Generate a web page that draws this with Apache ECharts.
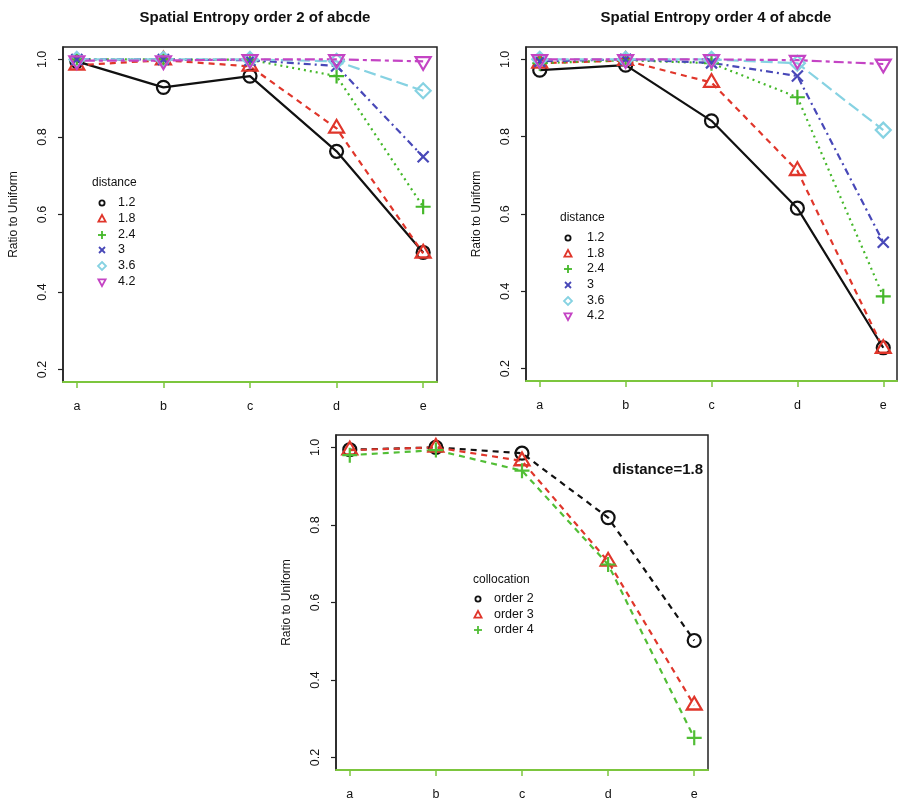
<!DOCTYPE html>
<html>
<head>
<meta charset="utf-8">
<script src="https://cdn.jsdelivr.net/npm/echarts@6/dist/echarts.min.js"></script>
<style>
  html, body { margin: 0; padding: 0; background: #fff; }
  #main { width: 902px; height: 803px; }
</style>
</head>
<body>
<div id="main"></div>
<script>
// Categories along the x axis
const categories = ['a', 'b', 'c', 'd', 'e'];
const yTicks = [0.2, 0.4, 0.6, 0.8, 1.0];
const distanceNames = ['1.2', '1.8', '2.4', '3', '3.6', '4.2'];
const orderNames = ['order 2', 'order 3', 'order 4'];

// Spatial entropy, order 2 (ratio to uniform) for each distance
const ord2_d12 = [0.995, 0.928, 0.957, 0.763, 0.502];
const ord2_d18 = [0.985, 0.998, 0.982, 0.822, 0.500];
const ord2_d24 = [1.000, 1.000, 0.999, 0.957, 0.620];
const ord2_d30 = [1.000, 1.000, 0.998, 0.983, 0.749];
const ord2_d36 = [1.000, 1.000, 1.000, 0.995, 0.919];
const ord2_d42 = [0.997, 0.997, 1.000, 1.000, 0.995];

// Spatial entropy, order 4 (ratio to uniform) for each distance
const ord4_d12 = [0.972, 0.985, 0.841, 0.615, 0.254];
const ord4_d18 = [0.990, 0.997, 0.940, 0.712, 0.252];
const ord4_d24 = [0.990, 0.998, 0.990, 0.902, 0.387];
const ord4_d30 = [0.995, 1.000, 0.991, 0.957, 0.527];
const ord4_d36 = [1.000, 1.000, 1.000, 0.990, 0.817];
const ord4_d42 = [1.000, 1.000, 1.000, 0.998, 0.988];

// Distance 1.8, collocation orders 2..4
const d18_ord2 = [0.994, 1.000, 0.985, 0.819, 0.502];
const d18_ord3 = [0.993, 1.000, 0.965, 0.706, 0.335];
const d18_ord4 = [0.980, 0.993, 0.940, 0.698, 0.251];

const FONT = 'Liberation Sans, Arial, sans-serif';

// R-like plotting symbols (open)
const SYM = {
  circle: 'circle',
  triangle: 'path://M0,1.555M0,-1.555L1.347,0.778L-1.347,0.778Z',
  plus: 'path://M0,-1L0,1M-1,0L1,0',
  cross: 'path://M-1,-1L1,1M-1,1L1,-1',
  diamond: 'path://M0,-1L1,0L0,1L-1,0Z',
  downTriangle: 'path://M0,-1.555M0,1.555L1.347,-0.778L-1.347,-0.778Z'
};
const SYM_SIZE = {
  circle: 13, triangle: [15, 17], plus: 15, cross: 11, diamond: 15, downTriangle: [15, 17]
};

const styles = [
  { color: '#111111', dash: 'solid', sym: 'circle' },
  { color: '#e0362b', dash: [6, 5], sym: 'triangle' },
  { color: '#45b82a', dash: [2, 4], sym: 'plus' },
  { color: '#4848b8', dash: [2, 4, 7, 4], sym: 'cross' },
  { color: '#86d2e2', dash: [12, 5], sym: 'diamond' },
  { color: '#c444c4', dash: [4, 4, 10, 4], sym: 'downTriangle' }
];
const styles3 = [
  { color: '#111111', dash: [6, 5], sym: 'circle' },
  { color: '#e0362b', dash: [6, 5], sym: 'triangle' },
  { color: '#52be36', dash: [6, 5], sym: 'plus' }
];

const grids = [
  { left: 63, top: 47, width: 374, height: 335 },
  { left: 526, top: 47, width: 371, height: 334 },
  { left: 336, top: 435, width: 372, height: 335 }
];

function lineSeries(gi, vals, st, name) {
  return {
    type: 'line', name: name, xAxisIndex: gi, yAxisIndex: gi,
    data: categories.map((c, i) => [i + 1, vals[i]]),
    symbol: SYM[st.sym], symbolSize: SYM_SIZE[st.sym],
    lineStyle: { color: st.color, width: 2.2, type: st.dash },
    itemStyle: { color: 'rgba(0,0,0,0)', borderColor: st.color, borderWidth: 2.2 },
    silent: true, animation: false, z: 3
  };
}

const xAxes = grids.map((g, i) => ({
  type: 'value', gridIndex: i, min: 0.84, max: 5.16,
  axisLine: { show: true, onZero: false, lineStyle: { color: '#7cc63e', width: 2 } },
  axisTick: { show: true, customValues: [1, 2, 3, 4, 5], length: 6, lineStyle: { color: '#7cc63e', width: 1.5 } },
  axisLabel: {
    customValues: [1, 2, 3, 4, 5], margin: 18, color: '#111', fontSize: 12.5, fontFamily: FONT,
    formatter: v => categories[Math.round(v) - 1]
  },
  splitLine: { show: false }
}));

const yAxes = grids.map((g, i) => ({
  type: 'value', gridIndex: i, min: 0.168, max: 1.032,
  name: 'Ratio to Uniform', nameLocation: 'middle', nameGap: 43, nameRotate: 90,
  nameTextStyle: { fontSize: 12, fontFamily: FONT, color: '#111' },
  axisLine: { show: true, lineStyle: { color: '#222', width: 1.5 } },
  axisTick: { show: true, customValues: yTicks, length: 5, lineStyle: { color: '#222', width: 1.2 } },
  axisLabel: {
    customValues: yTicks, rotate: 90, margin: 14, color: '#111', fontSize: 12.5, fontFamily: FONT,
    formatter: v => v.toFixed(1)
  },
  splitLine: { show: false }
}));

// Small legend glyphs drawn as graphic shapes
function glyph(kind, x, y, color) {
  const s = { stroke: color, lineWidth: 1.8, fill: null };
  switch (kind) {
    case 'circle': return { type: 'circle', shape: { cx: x, cy: y, r: 2.6 }, style: s };
    case 'triangle': return { type: 'polygon', shape: { points: [[x, y - 4], [x + 3.6, y + 2.6], [x - 3.6, y + 2.6]] }, style: s };
    case 'downTriangle': return { type: 'polygon', shape: { points: [[x, y + 4], [x + 3.6, y - 2.6], [x - 3.6, y - 2.6]] }, style: s };
    case 'diamond': return { type: 'polygon', shape: { points: [[x, y - 4], [x + 4, y], [x, y + 4], [x - 4, y]] }, style: s };
    case 'plus': return { type: 'group', children: [
      { type: 'line', shape: { x1: x - 4, y1: y, x2: x + 4, y2: y }, style: s },
      { type: 'line', shape: { x1: x, y1: y - 4, x2: x, y2: y + 4 }, style: s }] };
    case 'cross': return { type: 'group', children: [
      { type: 'line', shape: { x1: x - 3, y1: y - 3, x2: x + 3, y2: y + 3 }, style: s },
      { type: 'line', shape: { x1: x - 3, y1: y + 3, x2: x + 3, y2: y - 3 }, style: s }] };
  }
}

function legendBlock(title, names, stl, x0, yTitle, symX, textX, rowYs) {
  const els = [{
    type: 'text', x: x0, y: yTitle,
    style: { text: title, font: '12px ' + FONT, fill: '#111', textVerticalAlign: 'middle' }
  }];
  names.forEach((n, i) => {
    els.push(glyph(stl[i].sym, symX, rowYs[i], stl[i].color));
    els.push({ type: 'text', x: textX, y: rowYs[i],
      style: { text: n, font: '12.5px ' + FONT, fill: '#111', textVerticalAlign: 'middle' } });
  });
  return els;
}

const graphics = [].concat(
  legendBlock('distance', distanceNames, styles, 92, 183, 102, 118, [203, 219, 235, 250, 266, 282]),
  legendBlock('distance', distanceNames, styles, 560, 218, 568, 587, [238, 254, 269, 285, 301, 316]),
  legendBlock('collocation', orderNames, styles3, 473, 580, 478, 494, [599, 615, 630]),
  [{
    type: 'text', x: 703, y: 470,
    style: { text: 'distance=1.8', font: 'bold 15px ' + FONT, fill: '#111', textAlign: 'right', textVerticalAlign: 'middle' }
  }]
);

const series = [].concat(
  [ord2_d12, ord2_d18, ord2_d24, ord2_d30, ord2_d36, ord2_d42].map((v, i) => lineSeries(0, v, styles[i], distanceNames[i])),
  [ord4_d12, ord4_d18, ord4_d24, ord4_d30, ord4_d36, ord4_d42].map((v, i) => lineSeries(1, v, styles[i], distanceNames[i])),
  [d18_ord2, d18_ord3, d18_ord4].map((v, i) => lineSeries(2, v, styles3[i], orderNames[i]))
);

const chart = echarts.init(document.getElementById('main'), null, { renderer: 'canvas' });
chart.setOption({
  backgroundColor: '#ffffff',
  animation: false,
  title: [
    { text: 'Spatial Entropy order 2 of abcde', left: 250, top: 5, textAlign: 'center',
      textStyle: { fontSize: 15, fontWeight: 'bold', fontFamily: FONT, color: '#111' } },
    { text: 'Spatial Entropy order 4 of abcde', left: 711, top: 5, textAlign: 'center',
      textStyle: { fontSize: 15, fontWeight: 'bold', fontFamily: FONT, color: '#111' } }
  ],
  grid: grids.map(g => Object.assign({
    show: true, borderColor: '#222', borderWidth: 1.5, backgroundColor: 'transparent',
    containLabel: false, outerBoundsMode: 'none'
  }, g)),
  xAxis: xAxes,
  yAxis: yAxes,
  series: series,
  graphic: graphics
});
</script>
</body>
</html>
